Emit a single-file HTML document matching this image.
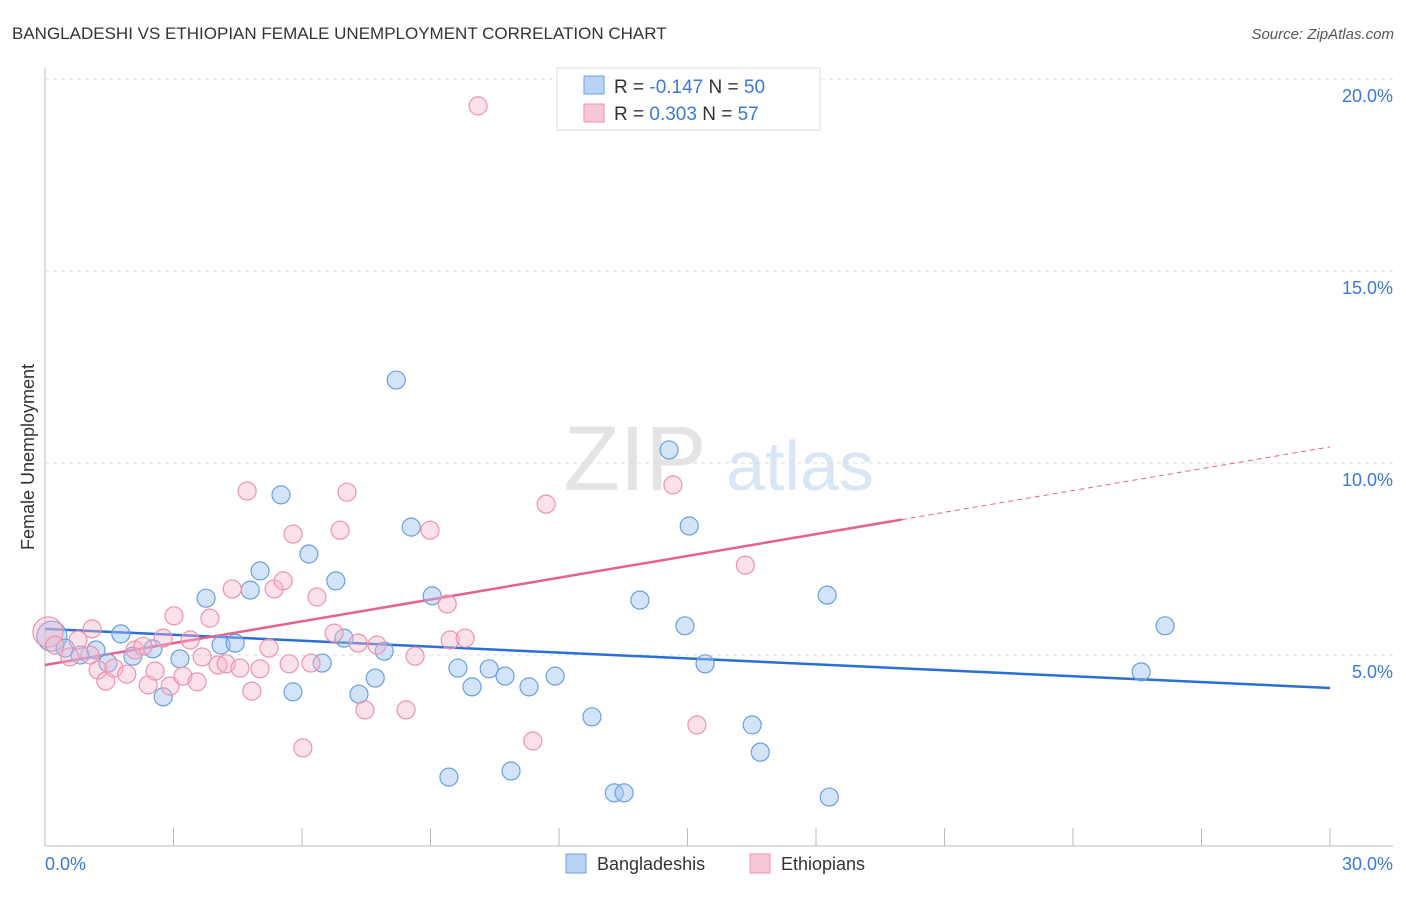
<!DOCTYPE html>
<html><head><meta charset="utf-8"><style>
body{margin:0;background:#fff;font-family:"Liberation Sans",sans-serif;}
svg text{font-family:"Liberation Sans",sans-serif;}
</style></head><body>
<svg id="chart" width="1406" height="892" xmlns="http://www.w3.org/2000/svg">
<text x="12" y="39" font-size="17" fill="#333">BANGLADESHI VS ETHIOPIAN FEMALE UNEMPLOYMENT CORRELATION CHART</text>
<text x="1394" y="39" font-size="15" fill="#555" text-anchor="end" font-style="italic">Source: ZipAtlas.com</text>
<text x="635" y="490" font-size="92" fill="#e4e4e4" font-family="Liberation Serif" text-anchor="middle">ZIP</text>
<text x="800" y="490" font-size="70" fill="#d8e6f6" text-anchor="middle">atlas</text>
<g id="grid"></g><g id="axes"></g><g id="trend"></g><g id="points"></g>
<text transform="translate(34,457) rotate(-90)" font-size="18" fill="#333" text-anchor="middle">Female Unemployment</text>
<text x="45" y="870" font-size="18" fill="#3b78d8">0.0%</text>
<text x="1393" y="870" font-size="18" fill="#3b78d8" text-anchor="end">30.0%</text>
<g>
<rect x="557" y="68" width="263" height="62" fill="#fff" stroke="#ddd"/>
<rect x="584" y="76" width="20" height="18" fill="#b9d3f5" stroke="#6a9fe0"/>
<rect x="584" y="104" width="20" height="18" fill="#f8c7d6" stroke="#ee92ae"/>
<text x="614" y="93" font-size="19" fill="#333">R = <tspan fill="#3b78d8">-0.147</tspan>   N = <tspan fill="#3b78d8">50</tspan></text>
<text x="614" y="120" font-size="19" fill="#333">R =  <tspan fill="#3b78d8">0.303</tspan>   N =  <tspan fill="#3b78d8">57</tspan></text>
</g>
<g>
<rect x="566" y="854" width="20" height="19" fill="#b9d3f5" stroke="#6a9fe0"/>
<text x="597" y="870" font-size="18" fill="#333">Bangladeshis</text>
<rect x="750" y="854" width="20" height="19" fill="#f8c7d6" stroke="#ee92ae"/>
<text x="781" y="870" font-size="18" fill="#333">Ethiopians</text>
</g>
</svg>
<script>
const yTicks=[5,10,15,20];
const xTickVals=[0,3,6,9,12,15,18,21,24,27,30];
const blueX=[0.16,0.47,0.82,1.19,1.47,1.77,2.05,2.52,2.76,3.15,3.76,4.11,4.44,4.79,5.02,5.51,5.79,6.16,6.47,6.79,6.98,7.33,7.71,7.92,8.20,8.55,9.04,9.43,9.64,9.97,10.37,10.74,10.88,11.30,11.91,12.77,13.29,13.52,13.89,14.57,14.94,15.04,15.41,16.51,16.70,18.26,18.31,25.59,26.15];
const blueY=[5.49,5.18,5.0,5.13,4.79,5.55,4.97,5.16,3.91,4.90,6.48,5.26,5.31,6.69,7.19,9.17,4.04,7.63,4.79,6.93,5.44,3.98,4.40,5.10,12.16,8.33,6.54,1.82,4.66,4.17,4.64,4.45,1.98,4.17,4.45,3.39,1.41,1.41,6.43,10.34,5.76,8.36,4.77,3.18,2.47,6.56,1.30,4.56,5.76];
const pinkX=[0.07,0.23,0.58,0.77,1.05,1.10,1.24,1.42,1.61,1.91,2.10,2.29,2.41,2.57,2.76,2.92,3.01,3.22,3.39,3.55,3.67,3.85,4.04,4.23,4.37,4.55,4.72,4.83,5.02,5.23,5.35,5.56,5.70,5.79,6.02,6.21,6.35,6.75,6.89,7.05,7.31,7.47,7.75,8.43,8.64,8.99,9.39,9.46,9.81,10.11,11.39,11.70,14.66,15.22,16.35];
const pinkY=[5.60,5.26,4.95,5.39,5.0,5.68,4.61,4.32,4.66,4.50,5.13,5.23,4.22,4.58,5.44,4.19,6.02,4.45,5.39,4.30,4.95,5.96,4.74,4.77,6.72,4.66,9.27,4.06,4.64,5.18,6.72,6.93,4.77,8.15,2.58,4.79,6.51,5.57,8.25,9.24,5.31,3.57,5.26,3.57,4.97,8.25,6.33,5.39,5.44,19.30,2.76,8.93,9.43,3.18,7.34];
const blueTrend=[5.68,4.14];
const pinkTrend=[4.74,10.42];
const pinkSolidEnd=20;
const NS="http://www.w3.org/2000/svg";
const xs=v=>45+v/30*1285, ys=v=>847-v*38.4;
function mk(p,t,a){const e=document.createElementNS(NS,t);for(const k in a)e.setAttribute(k,a[k]);document.getElementById(p).appendChild(e);return e;}
yTicks.forEach(t=>{
 const l=mk('grid','line',{x1:45,x2:1393,y1:ys(t),y2:ys(t),stroke:'#ddd','stroke-dasharray':'4,4'});
 
 
 const tx=mk('grid','text',{x:1393,y:ys(t)+23,'font-size':18,fill:'#3b78d8','text-anchor':'end'});
 tx.textContent=t.toFixed(1)+'%';
 
 
});
mk('axes','line',{x1:45,x2:45,y1:68,y2:846,stroke:'#bbb'});
mk('axes','line',{x1:45,x2:1393,y1:846,y2:846,stroke:'#bbb'});
xTickVals.forEach(t=>{
 const l=mk('axes','line',{x1:xs(t),x2:xs(t),y1:828,y2:846,stroke:'#bbb'});
 
 
});
let b=mk('trend','line',{x1:xs(0),y1:ys(blueTrend[0]),x2:xs(30),y2:ys(blueTrend[1]),stroke:'#2a6fd6','stroke-width':2.5});


const pAt=x=>pinkTrend[0]+(pinkTrend[1]-pinkTrend[0])*x/30;
let p=mk('trend','line',{x1:xs(0),y1:ys(pAt(0)),x2:xs(pinkSolidEnd),y2:ys(pAt(pinkSolidEnd)),stroke:'#e8608c','stroke-width':2.5});


let pd=mk('trend','line',{x1:xs(pinkSolidEnd),y1:ys(pAt(pinkSolidEnd)),x2:xs(30),y2:ys(pAt(30)),stroke:'#e8608c','stroke-width':1,'stroke-dasharray':'5,4'});


blueX.forEach((x,i)=>{
 const c=mk('points','circle',{cx:xs(x),cy:ys(blueY[i]),r:i==0?15:9,fill:'rgba(160,195,240,0.45)',stroke:'#6a9fe0','stroke-width':1.2});
 
 
});
pinkX.forEach((x,i)=>{
 const c=mk('points','circle',{cx:xs(x),cy:ys(pinkY[i]),r:i==0?15:9,fill:'rgba(246,180,203,0.4)',stroke:'#ee92ae','stroke-width':1.2});
 
 
});
</script>
</body></html>
